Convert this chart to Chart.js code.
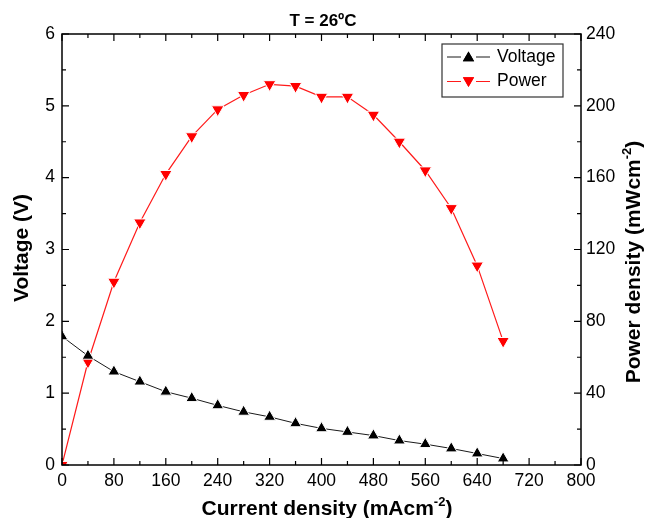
<!DOCTYPE html>
<html>
<head>
<meta charset="utf-8">
<style>
  html, body { margin: 0; padding: 0; background: #fff; }
  #chart { display: block; }
</style>
</head>
<body>
<canvas id="chart" width="650" height="518"></canvas>
<script src="https://cdn.jsdelivr.net/npm/chart.js@4/dist/chart.umd.min.js"></script>
<script>
// SECTION: data
const currentDensity = [0, 40, 80, 120, 160, 200, 240, 280, 320, 360, 400, 440, 480, 520, 560, 600, 640, 680];
const voltage = [1.79, 1.52, 1.30, 1.16, 1.02, 0.93, 0.83, 0.74, 0.67, 0.58, 0.51, 0.46, 0.41, 0.34, 0.29, 0.23, 0.16, 0.09];
const power = [0, 57.5, 102, 135, 162, 183, 198, 206, 212, 211, 205, 205, 195, 180, 164, 143, 111, 69];
const xTicks = [0, 80, 160, 240, 320, 400, 480, 560, 640, 720, 800];
const voltageTicks = [0, 1, 2, 3, 4, 5, 6];
const powerTicks = [0, 40, 80, 120, 160, 200, 240];

const seriesNames = ['Voltage', 'Power'];
const chartTitle = 'T = 26\u00baC';
const xTitle = [{ text: 'Current density (mAcm' }, { text: '-2', sup: true }, { text: ')' }];
const yTitle = [{ text: 'Voltage (V)' }];
const y1Title = [{ text: 'Power density (mWcm' }, { text: '-2', sup: true }, { text: ')' }];

const FONT = '"Liberation Sans", Arial, sans-serif';

const toPoints = (xs, ys) => xs.map((x, i) => ({ x, y: ys[i] }));

const drawRich = (ctx, parts, x, y, size, angle) => {
  const supSize = Math.round(size * 0.62);
  ctx.save();
  ctx.translate(x, y);
  ctx.rotate(angle);
  ctx.fillStyle = '#000';
  ctx.textBaseline = 'alphabetic';
  ctx.textAlign = 'left';
  const widths = parts.map((p) => {
    ctx.font = `bold ${p.sup ? supSize : size}px ${FONT}`;
    return ctx.measureText(p.text).width;
  });
  let cx = -widths.reduce((a, b) => a + b, 0) / 2;
  const base = size * 0.36;
  parts.forEach((p, i) => {
    ctx.font = `bold ${p.sup ? supSize : size}px ${FONT}`;
    ctx.fillText(p.text, cx, p.sup ? base - size * 0.42 : base);
    cx += widths[i];
  });
  ctx.restore();
};

// frame, inward ticks, titles and the boxed legend
const decorations = {
  id: 'decorations',
  afterDatasetsDraw(chart) {
    const { ctx, chartArea: a, scales } = chart;
    ctx.save();
    ctx.strokeStyle = '#000';
    ctx.lineWidth = 1.5;
    ctx.strokeRect(a.left, a.top, a.right - a.left, a.bottom - a.top);

    const majorLen = 7;
    const minorLen = 4;
    ctx.lineWidth = 1.2;
    ctx.beginPath();
    const xs = scales.x;
    xs.ticks.forEach((t, i) => {
      const px = xs.getPixelForValue(t.value);
      ctx.moveTo(px, a.bottom); ctx.lineTo(px, a.bottom - majorLen);
      ctx.moveTo(px, a.top); ctx.lineTo(px, a.top + majorLen);
      if (i < xs.ticks.length - 1) {
        const mx = xs.getPixelForValue((t.value + xs.ticks[i + 1].value) / 2);
        ctx.moveTo(mx, a.bottom); ctx.lineTo(mx, a.bottom - minorLen);
        ctx.moveTo(mx, a.top); ctx.lineTo(mx, a.top + minorLen);
      }
    });
    [['y', a.left, 1], ['y1', a.right, -1]].forEach(([id, edge, dir]) => {
      const s = scales[id];
      s.ticks.forEach((t, i) => {
        const py = s.getPixelForValue(t.value);
        ctx.moveTo(edge, py); ctx.lineTo(edge + dir * majorLen, py);
        if (i < s.ticks.length - 1) {
          const my = s.getPixelForValue((t.value + s.ticks[i + 1].value) / 2);
          ctx.moveTo(edge, my); ctx.lineTo(edge + dir * minorLen, my);
        }
      });
    });
    ctx.stroke();

    // titles
    ctx.fillStyle = '#000';
    ctx.font = `bold 17px ${FONT}`;
    ctx.textAlign = 'center';
    ctx.textBaseline = 'middle';
    ctx.fillText(chartTitle, 323, 21);
    drawRich(ctx, xTitle, 327, 507, 21, 0);
    drawRich(ctx, yTitle, 20, 248, 21, -Math.PI / 2);
    drawRich(ctx, y1Title, 632, 262, 21, -Math.PI / 2);

    // legend
    const box = { left: 442, top: 44, right: 563, bottom: 97 };
    ctx.lineWidth = 1.2;
    ctx.strokeStyle = '#333';
    ctx.fillStyle = '#fff';
    ctx.fillRect(box.left, box.top, box.right - box.left, box.bottom - box.top);
    ctx.strokeRect(box.left, box.top, box.right - box.left, box.bottom - box.top);
    chart.data.datasets.forEach((ds, i) => {
      const cy = 57 + i * 24.5;
      ctx.strokeStyle = ds.borderColor;
      ctx.lineWidth = 1;
      ctx.beginPath();
      ctx.moveTo(447, cy); ctx.lineTo(461, cy);
      ctx.moveTo(476, cy); ctx.lineTo(490, cy);
      ctx.stroke();
      ctx.fillStyle = ds.pointBackgroundColor;
      ctx.strokeStyle = ds.pointBackgroundColor;
      Chart.helpers.drawPoint(ctx, {
        pointStyle: 'triangle',
        radius: 6.5,
        rotation: ds.pointRotation,
        borderWidth: 0
      }, 468.5, cy + (ds.pointRotation ? -1 : 1));
      ctx.fill();
      ctx.fillStyle = '#000';
      ctx.font = `17.5px ${FONT}`;
      ctx.textAlign = 'left';
      ctx.textBaseline = 'middle';
      ctx.fillText(ds.label, 497, cy);
    });
    ctx.restore();
  }
};

const tickFont = { family: FONT, size: 17.5 };

new Chart(document.getElementById('chart').getContext('2d'), {
  type: 'line',
  data: {
    datasets: [
      {
        label: seriesNames[0],
        data: toPoints(currentDensity, voltage),
        yAxisID: 'y',
        borderColor: '#1a1a1a',
        borderWidth: 1,
        pointStyle: 'triangle',
        pointRadius: 6.8,
        pointRotation: 0,
        pointBackgroundColor: '#000',
        pointBorderColor: '#fff',
        pointBorderWidth: 1,
        tension: 0
      },
      {
        label: seriesNames[1],
        data: toPoints(currentDensity, power),
        yAxisID: 'y1',
        borderColor: '#ff1a1a',
        borderWidth: 1.2,
        pointStyle: 'triangle',
        pointRadius: 7.2,
        pointRotation: 180,
        pointBackgroundColor: '#ff0000',
        pointBorderColor: '#fff',
        pointBorderWidth: 1,
        tension: 0
      }
    ]
  },
  options: {
    responsive: false,
    animation: false,
    layout: { padding: { top: 34, left: 0, right: 0, bottom: 0 } },
    plugins: {
      legend: { display: false },
      tooltip: { enabled: false },
      title: { display: false }
    },
    scales: {
      x: {
        type: 'linear',
        min: 0,
        max: 800,
        afterBuildTicks: (s) => { s.ticks = xTicks.map((value) => ({ value })); },
        afterFit: (s) => { s.height = 53; },
        grid: { display: false, drawTicks: false },
        border: { display: false },
        ticks: { color: '#000', font: tickFont, padding: 6, maxRotation: 0, autoSkip: false }
      },
      y: {
        position: 'left',
        min: 0,
        max: 6,
        afterBuildTicks: (s) => { s.ticks = voltageTicks.map((value) => ({ value })); },
        afterFit: (s) => { s.width = 62; },
        grid: { display: false, drawTicks: false },
        border: { display: false },
        ticks: { color: '#000', font: tickFont, padding: 7, autoSkip: false }
      },
      y1: {
        position: 'right',
        min: 0,
        max: 240,
        afterBuildTicks: (s) => { s.ticks = powerTicks.map((value) => ({ value })); },
        afterFit: (s) => { s.width = 69; },
        grid: { display: false, drawTicks: false },
        border: { display: false },
        ticks: { color: '#000', font: tickFont, padding: 5, autoSkip: false }
      }
    }
  },
  plugins: [decorations]
});
</script>
</body>
</html>
